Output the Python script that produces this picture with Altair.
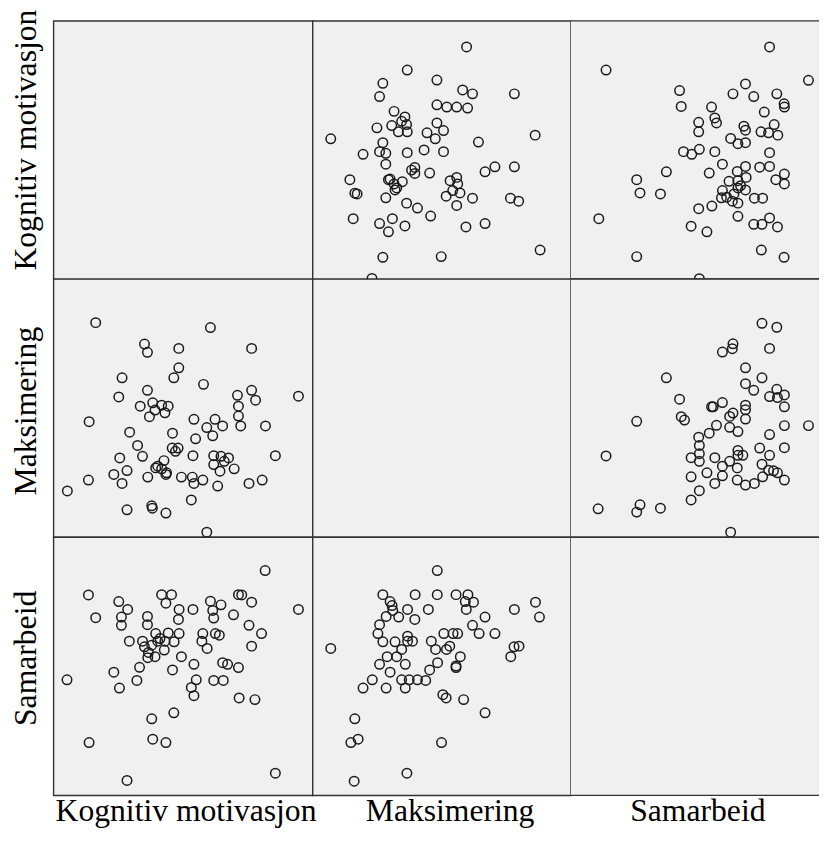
import altair as alt
import pandas as pd

# Variable names
VARS = ["Kognitiv motivasjon", "Maksimering", "Samarbeid"]

# Pairs Kognitiv motivasjon (K) vs Maksimering (M)
km_k = [130, 478, 278, 287, 382, 603, 382, 367, 210, 457, 287, 603, 560, 615, 200, 745, 265, 303, 330, 350,
        310, 340, 293, 563, 563, 570, 110, 428, 492, 467, 515, 645, 485, 233, 363, 433, 257, 362, 380, 372,
        272, 425, 488, 510, 533, 675, 203, 337, 312, 330, 345, 488, 507, 550, 225, 185, 108, 210, 288, 343,
        390, 423, 428, 455, 500, 595, 635, 44, 420, 225, 300, 302, 343, 467, 520, 318]
km_m = [692, 677, 627, 602, 614, 614, 555, 525, 525, 505, 487, 487, 472, 457, 467, 469, 439, 449, 442, 439,
        427, 419, 407, 439, 409, 379, 392, 399, 399, 374, 379, 379, 349, 360, 357, 340, 320, 312, 312, 302,
        287, 289, 289, 287, 282, 289, 282, 274, 252, 249, 237, 262, 242, 249, 244, 232, 215, 205, 224, 232,
        224, 224, 205, 215, 197, 205, 215, 182, 155, 125, 137, 130, 115, 57, 272, 257]

# Pairs Kognitiv motivasjon (K) vs Samarbeid (S)
ks_k = [644, 108, 330, 360, 343, 563, 573, 603, 200, 227, 208, 208, 130, 287, 287, 383, 381, 425, 478, 510,
        485, 488, 548, 745, 595, 633, 603, 232, 272, 278, 312, 350, 383, 318, 340, 368, 338, 290, 310, 288,
        455, 452, 468, 493, 505, 390, 428, 515, 530, 563, 263, 185, 363, 255, 43, 202, 435, 420, 428, 488,
        517, 565, 613, 367, 300, 110, 303, 343, 225, 675, 325, 300]
ks_s = [723, 649, 650, 650, 624, 650, 649, 627, 629, 605, 582, 557, 580, 584, 559, 605, 575, 605, 630, 619,
        602, 579, 589, 605, 557, 532, 494, 509, 509, 492, 532, 534, 532, 509, 509, 507, 482, 475, 462, 459,
        532, 509, 487, 532, 527, 462, 439, 444, 439, 429, 430, 415, 422, 390, 392, 367, 392, 369, 344, 390,
        390, 337, 332, 292, 274, 202, 212, 202, 87, 109, 517, 497]

# Pairs Maksimering (M) vs Samarbeid (S)
ms_m = [380, 215, 313, 380, 437, 473, 465, 490, 468, 237, 243, 245, 263, 290, 312, 353, 225, 205, 200, 215,
        525, 487, 507, 555, 614, 678, 690, 613, 628, 603, 57, 252, 272, 290, 290, 305, 362, 375, 400, 428,
        442, 418, 408, 228, 257, 283, 205, 450, 437, 437, 381, 357, 237, 183, 155, 225, 272, 295, 320, 345,
        283, 397, 407, 460, 525, 130, 118, 140, 393, 288, 128]
ms_s = [723, 650, 650, 650, 650, 650, 629, 627, 605, 629, 617, 602, 582, 605, 575, 605, 584, 559, 532, 507,
        582, 557, 532, 532, 605, 627, 582, 492, 494, 462, 487, 507, 484, 524, 509, 509, 509, 484, 532, 532,
        532, 494, 484, 462, 462, 439, 439, 462, 429, 434, 444, 422, 415, 392, 367, 367, 392, 392, 392, 390,
        367, 347, 337, 332, 292, 274, 202, 212, 202, 109, 85]

data = {
    ("Kognitiv motivasjon", "Maksimering"): (km_k, km_m),
    ("Kognitiv motivasjon", "Samarbeid"): (ks_k, ks_s),
    ("Maksimering", "Samarbeid"): (ms_m, ms_s),
}

COL_W = [262, 261, 251]
ROW_H = 261
X_DOM = [[2, 788], [2, 785], [2, 755]]
Y_DOM = [42, 824]
FONT = "Liberation Serif"
FS_Y = 32
FS_X = 32
TITLE_Y = {"Kognitiv motivasjon": 120, "Maksimering": 133, "Samarbeid": 122}
TITLE_X = {"Kognitiv motivasjon": 133.5, "Maksimering": 138.5, "Samarbeid": 128}
LINE = "#333333"
LW = 1.4


def pair(xvar, yvar):
    if (xvar, yvar) in data:
        xs, ys = data[(xvar, yvar)]
    elif (yvar, xvar) in data:
        ys, xs = data[(yvar, xvar)]
    else:
        xs, ys = [], []
    return pd.DataFrame({"x": xs, "y": ys})


one = pd.DataFrame({"k": [0]})

cells = []
for ri, rvar in enumerate(VARS):
    for ci, cvar in enumerate(VARS):
        df = pair(cvar, rvar)
        if ci == 0:
            yaxis = alt.Axis(title=rvar, labels=False, ticks=False, domain=False, grid=False,
                             titleFont=FONT, titleFontSize=FS_Y, titleFontWeight="normal",
                             titleColor="black", titlePadding=11.5, titleY=TITLE_Y[rvar])
        else:
            yaxis = None
        if ri == 2:
            xaxis = alt.Axis(title=cvar, labels=False, ticks=False, domain=False, grid=False,
                             titleFont=FONT, titleFontSize=FS_X, titleFontWeight="normal",
                             titleColor="black", titlePadding=0, titleX=TITLE_X[cvar])
        else:
            xaxis = None
        pts = alt.Chart(df).mark_point(
            shape="circle", filled=False, size=92, stroke="#1a1a1a", strokeWidth=1.5, opacity=1
        ).encode(
            x=alt.X("x:Q", scale=alt.Scale(domain=X_DOM[ci], nice=False, zero=False), axis=xaxis),
            y=alt.Y("y:Q", scale=alt.Scale(domain=Y_DOM, nice=False, zero=False), axis=yaxis),
        )
        if ci == 2:
            # last column is cut at the right edge: draw only its top and bottom frame lines
            top_rule = alt.Chart(one).mark_rule(color=LINE, strokeWidth=LW).encode(
                x=alt.value(0), x2=alt.value(COL_W[ci]), y=alt.value(0))
            bottom_rule = alt.Chart(one).mark_rule(color=LINE, strokeWidth=LW).encode(
                x=alt.value(0), x2=alt.value(COL_W[ci]), y=alt.value(ROW_H))
            c = alt.layer(pts, top_rule, bottom_rule).properties(
                width=COL_W[ci], height=ROW_H,
                view=alt.ViewBackground(stroke="transparent", fill="#f0f0f0"),
            )
        else:
            c = pts.properties(width=COL_W[ci], height=ROW_H)
        cells.append(c)

chart = alt.concat(*cells, columns=3, spacing=0, bounds="flush", align="each").properties(
    padding={"left": 0, "top": -4.5, "right": 0, "bottom": 0}
).configure_view(
    stroke=LINE, strokeWidth=LW, fill="#f0f0f0"
)

chart.save("out.html", embed_options={"renderer": "svg", "actions": False})
